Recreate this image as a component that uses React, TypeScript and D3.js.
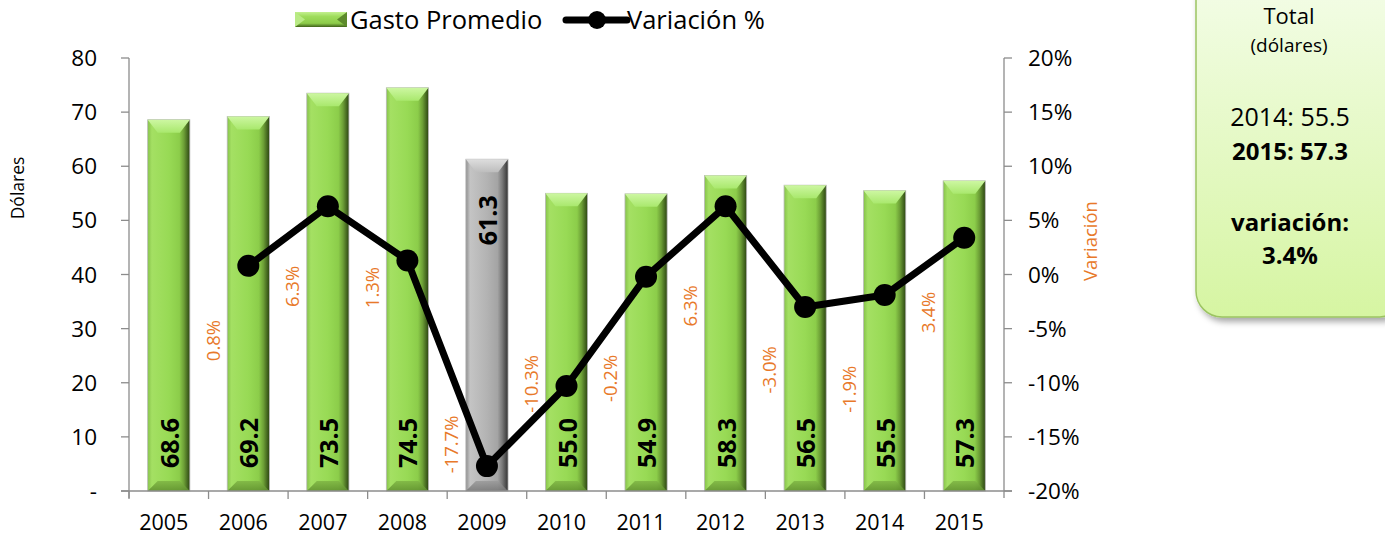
import React from "react";
import * as d3 from "d3";

const years = ["2005","2006","2007","2008","2009","2010","2011","2012","2013","2014","2015"];
const gasto = [68.6, 69.2, 73.5, 74.5, 61.3, 55.0, 54.9, 58.3, 56.5, 55.5, 57.3];
const variacion: (number | null)[] = [null, 0.8, 6.3, 1.3, -17.7, -10.3, -0.2, 6.3, -3.0, -1.9, 3.4];
// where each variation label sits, in % units of the right axis
const varLabelAt: (number | null)[] = [null, -6.1, -1.1, -1.2, -15.7, -10.1, -9.6, -2.9, -8.8, -10.6, -3.5];
const leftTicks = [0, 10, 20, 30, 40, 50, 60, 70, 80];
const rightTicks = [-20, -15, -10, -5, 0, 5, 10, 15, 20];
const highlightYear = "2009";

const FONT = "'Open Sans', sans-serif";
const ORANGE = "#E8792A";
const AXIS = "#8c8c8c";

export default function App() {
  const W = 1385, H = 537;
  const left = 129, right = 1004, top = 58, bottom = 491;
  const x = d3.scaleBand<string>().domain(years).range([left, right]).padding(0);
  const step = x.bandwidth();
  const bw = step * 0.53;
  const yL = d3.scaleLinear().domain([0, 80]).range([bottom, top]);
  const yR = d3.scaleLinear().domain([-20, 20]).range([bottom, top]);
  const cx = (d: string) => (x(d) as number) + step / 2;

  const linePts = years
    .map((d, i) => ({ d, v: variacion[i] }))
    .filter((p) => p.v !== null) as { d: string; v: number }[];
  const line = d3.line<{ d: string; v: number }>().x((p) => cx(p.d)).y((p) => yR(p.v));

  const bev = 10;

  return (
    <svg width={W} height={H} style={{ position: "absolute", left: 0, top: 0, fontFamily: FONT }}>
      <defs>
        <linearGradient id="gBody" x1="0" x2="1" y1="0" y2="0">
          <stop offset="0" stopColor="#86c24a" />
          <stop offset="0.1" stopColor="#a4e063" />
          <stop offset="0.5" stopColor="#98da55" />
          <stop offset="0.75" stopColor="#8ccd4a" />
          <stop offset="0.86" stopColor="#6c9e36" />
          <stop offset="1" stopColor="#2c4512" />
        </linearGradient>
        <linearGradient id="gTop" x1="0" x2="0" y1="0" y2="1">
          <stop offset="0" stopColor="#cdf7a2" />
          <stop offset="1" stopColor="#a9e86d" />
        </linearGradient>
        <linearGradient id="gBot" x1="0" x2="0" y1="0" y2="1">
          <stop offset="0" stopColor="#7fb544" />
          <stop offset="1" stopColor="#5f8f2e" />
        </linearGradient>
        <linearGradient id="sBody" x1="0" x2="1" y1="0" y2="0">
          <stop offset="0" stopColor="#8f8f8f" />
          <stop offset="0.1" stopColor="#c4c4c4" />
          <stop offset="0.5" stopColor="#b3b3b3" />
          <stop offset="0.75" stopColor="#a4a4a4" />
          <stop offset="0.86" stopColor="#7a7a7a" />
          <stop offset="1" stopColor="#333333" />
        </linearGradient>
        <linearGradient id="sTop" x1="0" x2="0" y1="0" y2="1">
          <stop offset="0" stopColor="#dedede" />
          <stop offset="1" stopColor="#bdbdbd" />
        </linearGradient>
        <linearGradient id="sBot" x1="0" x2="0" y1="0" y2="1">
          <stop offset="0" stopColor="#9a9a9a" />
          <stop offset="1" stopColor="#777777" />
        </linearGradient>
        <linearGradient id="legG" x1="0" x2="0" y1="0" y2="1">
          <stop offset="0" stopColor="#c3f08f" />
          <stop offset="0.3" stopColor="#9edc5b" />
          <stop offset="0.75" stopColor="#8dcc4a" />
          <stop offset="1" stopColor="#3f6119" />
        </linearGradient>
        <linearGradient id="boxG" x1="0" x2="0" y1="0" y2="1">
          <stop offset="0" stopColor="#f4fde9" />
          <stop offset="1" stopColor="#d6f5a2" />
        </linearGradient>
        <filter id="shadow" x="-20%" y="-20%" width="140%" height="140%">
          <feDropShadow dx="3" dy="4" stdDeviation="3" floodColor="#000" floodOpacity="0.35" />
        </filter>
      </defs>

      {/* Legend */}
      <g>
        <rect x={295} y={12} width={52} height={15} fill="url(#legG)" />
        <polygon points="295,12 305,19.5 295,27" fill="#b9ea85" />
        <polygon points="347,12 337,19.5 347,27" fill="#5d8a2c" />
        <text x={350} y={29} fontSize={25.5} fill="#000">Gasto Promedio</text>
        <line x1={566} x2={627} y1={20} y2={20} stroke="#000" strokeWidth={7} strokeLinecap="round" />
        <circle cx={597} cy={20} r={9} fill="#000" />
        <text x={627} y={29} fontSize={25.5} fill="#000">Variación %</text>
      </g>

      {/* Bars */}
      {years.map((d, i) => {
        const v = gasto[i];
        const bx = cx(d) - bw / 2;
        const by = yL(v);
        const bh = yL(0) - by;
        const grey = d === highlightYear;
        const p = grey ? "s" : "g";
        return (
          <g key={d}>
            <rect x={bx} y={by} width={bw} height={bh} fill={`url(#${p}Body)`} stroke="#b8b8b8" strokeWidth={0.8} />
            <polygon
              points={`${bx},${by} ${bx + bw},${by} ${bx + bw - bev},${by + bev * 1.3} ${bx + bev},${by + bev * 1.3}`}
              fill={`url(#${p}Top)`}
            />
            <polygon
              points={`${bx},${by + bh} ${bx + bw},${by + bh} ${bx + bw - bev},${by + bh - bev} ${bx + bev},${by + bh - bev}`}
              fill={`url(#${p}Bot)`}
              opacity={0.85}
            />
          </g>
        );
      })}

      {/* Axes */}
      <g stroke={AXIS} strokeWidth={1.3} fill="none">
        <line x1={left} x2={left} y1={top} y2={bottom + 7} />
        <line x1={right} x2={right} y1={top} y2={bottom + 7} />
        <line x1={left - 8} x2={right + 8} y1={bottom} y2={bottom} />
        {leftTicks.map((t) => (
          <line key={"lt" + t} x1={left - 8} x2={left} y1={yL(t)} y2={yL(t)} />
        ))}
        {rightTicks.map((t) => (
          <line key={"rt" + t} x1={right} x2={right + 8} y1={yR(t)} y2={yR(t)} />
        ))}
        {years.map((d) => (
          <line key={"xt" + d} x1={x(d) as number} x2={x(d) as number} y1={bottom} y2={bottom + 8} />
        ))}
      </g>

      {/* Tick labels */}
      {leftTicks.map((t) => (
        <text key={"ll" + t} x={97} y={yL(t) + 8} fontSize={22.5} textAnchor="end" fill="#000">
          {t === 0 ? "-" : t}
        </text>
      ))}
      {rightTicks.map((t) => (
        <text key={"rl" + t} x={1028} y={yR(t) + 8} fontSize={22.5} textAnchor="start" fill="#000">
          {t + "%"}
        </text>
      ))}
      {years.map((d) => (
        <text key={"xl" + d} x={cx(d) - 5} y={530} fontSize={21.5} textAnchor="middle" fill="#000">
          {d}
        </text>
      ))}

      {/* Axis titles */}
      <text transform={`translate(24,188) rotate(-90)`} fontSize={17.5} textAnchor="middle" fill="#000">
        Dólares
      </text>
      <text transform={`translate(1097,241) rotate(-90)`} fontSize={18.5} textAnchor="middle" fill={ORANGE}>
        Variación
      </text>

      {/* Bar value labels */}
      {years.map((d, i) => {
        const v = gasto[i];
        const grey = d === highlightYear;
        const tx = cx(d) + 10;
        if (grey) {
          return (
            <text key={"vl" + d} transform={`translate(${tx},${yL(v) + 36}) rotate(-90)`} fontSize={25} fontWeight="bold" textAnchor="end" fill="#000">
              {v.toFixed(1)}
            </text>
          );
        }
        return (
          <text key={"vl" + d} transform={`translate(${tx},${yL(0) - 23}) rotate(-90)`} fontSize={25} fontWeight="bold" textAnchor="start" fill="#000">
            {v.toFixed(1)}
          </text>
        );
      })}

      {/* Variation line */}
      <path d={line(linePts) || ""} fill="none" stroke="#000" strokeWidth={7} strokeLinejoin="round" />
      {linePts.map((p) => (
        <circle key={"pt" + p.d} cx={cx(p.d)} cy={yR(p.v)} r={11} fill="#000" />
      ))}

      {/* Variation labels */}
      {years.map((d, i) => {
        const v = variacion[i];
        const at = varLabelAt[i];
        if (v === null || at === null) return null;
        const lx = (x(d) as number) + 11;
        return (
          <text key={"pl" + d} transform={`translate(${lx},${yR(at)}) rotate(-90)`} fontSize={18.5} textAnchor="middle" fill={ORANGE}>
            {v.toFixed(1) + "%"}
          </text>
        );
      })}

      {/* Summary box */}
      <g filter="url(#shadow)">
        <rect x={1196} y={-30} width={210} height={347} rx={26} ry={26} fill="url(#boxG)" stroke="#9cc462" strokeWidth={1.5} />
      </g>
      <g textAnchor="middle" fill="#000">
        <text x={1289} y={24} fontSize={22}>Total</text>
        <text x={1289} y={52} fontSize={19}>(dólares)</text>
        <text x={1290} y={126} fontSize={25}>2014: 55.5</text>
        <text x={1290} y={160} fontSize={24} fontWeight="bold">2015: 57.3</text>
        <text x={1290} y={231} fontSize={24} fontWeight="bold">variación:</text>
        <text x={1290} y={264} fontSize={24} fontWeight="bold">3.4%</text>
      </g>
    </svg>
  );
}
